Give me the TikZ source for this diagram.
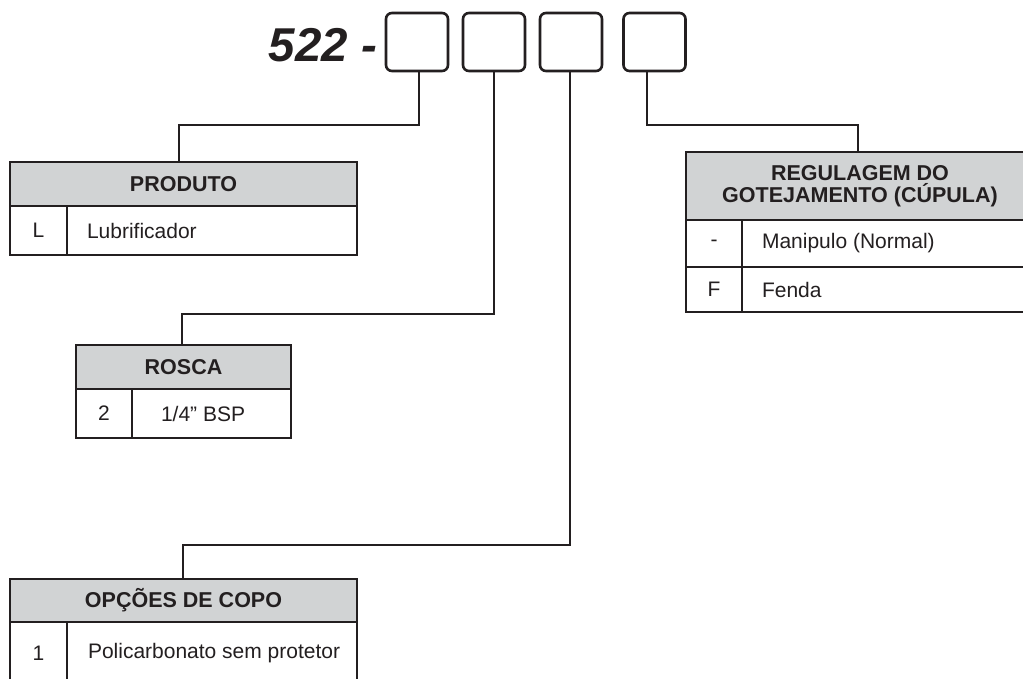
\documentclass[tikz,border=0pt]{standalone}
\usepackage{fontspec}
\setmainfont{Liberation Sans}
\definecolor{ink}{HTML}{231F20}
\definecolor{hdrgray}{HTML}{D1D3D4}
\newcommand{\lefttext}[2]{\makebox[#1][l]{#2}}
\begin{document}
\begin{tikzpicture}[x=1pt,y=-1pt,
  every node/.style={inner sep=0pt, outer sep=0pt, text=ink},
  codebox/.style={draw=ink, line width=2.6pt, rounded corners=6pt, minimum width=62pt, minimum height=58pt},
  hdr/.style={draw=ink, fill=hdrgray, line width=2pt, anchor=north west, align=center,
    font=\fontsize{21.5}{22.5}\selectfont\bfseries},
  codecell/.style={draw=ink, line width=2pt, anchor=north west, font=\fontsize{21}{24}\selectfont},
  desccell/.style={draw=ink, line width=2pt, anchor=north west, font=\fontsize{21}{24}\selectfont},
  link/.style={draw=ink, line width=2pt}
]
\clip (0,0) rectangle (1023,679);
\fill[white] (0,0) rectangle (1023,679);

% title and code boxes
\node[anchor=base east, font=\fontsize{47.5}{50}\selectfont\bfseries\itshape] (title) at (377,62) {522 -};
\node[codebox] (b1) at (417,42) {};
\node[codebox] (b2) at (494,42) {};
\node[codebox] (b3) at (571,42) {};
\node[codebox] (b4) at (654.5,42) {};

% PRODUTO
\node[hdr, minimum width=347pt, minimum height=44pt] (h1) at (10,162) {PRODUTO};
\node[codecell, minimum width=57pt, minimum height=49pt] (c1) at (10,206) {L};
\node[desccell, minimum height=49pt, inner xsep=20pt] (d1) at (67,206) {\lefttext{250pt}{Lubrificador}};

% ROSCA
\node[hdr, minimum width=215pt, minimum height=44pt] (h2) at (76,345) {ROSCA};
\node[codecell, minimum width=56pt, minimum height=49pt] (c2) at (76,389) {2};
\node[desccell, minimum height=49pt, inner xsep=29pt] (d2) at (132,389) {\lefttext{101pt}{1/4” BSP}};

% OPCOES DE COPO
\node[hdr, minimum width=347pt, minimum height=43pt] (h3) at (10,579) {OPÇÕES DE COPO};
\node[codecell, minimum width=57pt, minimum height=62pt] (c3) at (10,622) {1};
\node[desccell, minimum height=62pt, inner xsep=21pt] (d3) at (67,622) {\lefttext{248pt}{Policarbonato sem protetor}};

% REGULAGEM
\node[hdr, minimum width=348pt, minimum height=68pt] (h4) at (686,152) {REGULAGEM DO\\GOTEJAMENTO (CÚPULA)};
\node[codecell, minimum width=56pt, minimum height=47pt] (c4a) at (686,220) {-};
\node[desccell, minimum height=47pt, inner xsep=20pt] (d4a) at (742,220) {\lefttext{252pt}{Manipulo (Normal)}};
\node[codecell, minimum width=56pt, minimum height=45pt] (c4b) at (686,267) {F};
\node[desccell, minimum height=45pt, inner xsep=20pt] (d4b) at (742,267) {\lefttext{252pt}{Fenda}};

% connectors
\coordinate (k1) at (179,125);
\coordinate (k2) at (182,314);
\coordinate (k3) at (183,545);
\coordinate (k4) at (858,125);
\draw[link] ([xshift=2pt]b1.south) |- (k1) -- (k1 |- h1.north);
\draw[link] (b2.south) |- (k2) -- (k2 |- h2.north);
\draw[link] ([xshift=-1pt]b3.south) |- (k3) -- (k3 |- h3.north);
\draw[link] ([xshift=-7.5pt]b4.south) |- (k4) -- (k4 |- h4.north);
\end{tikzpicture}
\end{document}
